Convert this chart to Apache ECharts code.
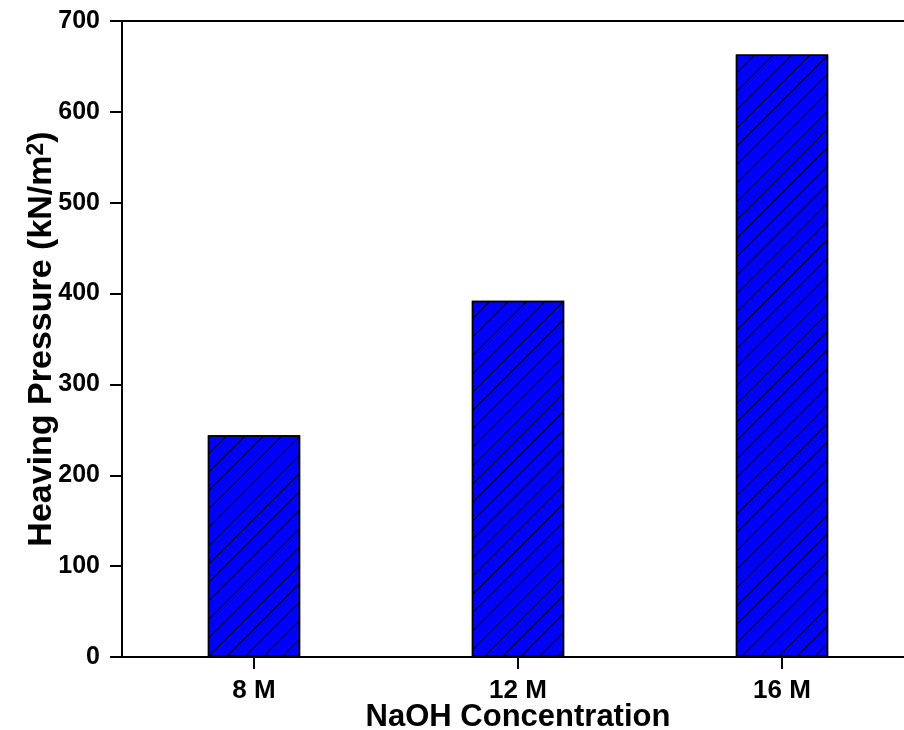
<!DOCTYPE html>
<html>
<head>
<meta charset="utf-8">
<title>Heaving Pressure vs NaOH Concentration</title>
<script src="https://cdn.jsdelivr.net/npm/echarts@6/dist/echarts.min.js"></script>
<style>
  html, body { margin: 0; padding: 0; background: #fff; }
  #chart { width: 904px; height: 730px; }
</style>
</head>
<body>
<div id="chart"></div>
<script>
// NaOH molarity groups and measured heaving pressure (kN/m²)
const categories = ['8 M', '12 M', '16 M'];
const heavingPressure = [244, 392, 663];
const yTicks = { min: 0, max: 700, interval: 100 };

const FONT = '"Liberation Sans", Arial, Helvetica, sans-serif';

const chart = echarts.init(document.getElementById('chart'), null, { renderer: 'canvas' });

chart.setOption({
  animation: false,
  backgroundColor: '#ffffff',
  grid: {
    left: 122,
    top: 21,
    right: -10,
    bottom: 73,
    containLabel: false,
    outerBoundsMode: 'none',
    show: true,
    borderColor: '#000',
    borderWidth: 2,
    backgroundColor: 'transparent'
  },
  xAxis: {
    type: 'category',
    data: categories,
    name: 'NaOH Concentration',
    nameLocation: 'middle',
    nameGap: 45,
    nameMoveOverlap: false,
    nameTextStyle: { fontFamily: FONT, fontWeight: 'bold', fontSize: 31, color: '#000' },
    axisLine: { lineStyle: { color: '#000', width: 2 } },
    axisTick: { show: true, alignWithLabel: true, length: 12, lineStyle: { color: '#000', width: 2 } },
    axisLabel: { fontFamily: FONT, fontWeight: 'bold', fontSize: 26, color: '#000', margin: 21 },
    splitLine: { show: false }
  },
  yAxis: {
    type: 'value',
    min: yTicks.min,
    max: yTicks.max,
    interval: yTicks.interval,
    name: 'Heaving Pressure (kN/m{sup|2})',
    nameLocation: 'middle',
    nameGap: 63,
    nameMoveOverlap: false,
    nameTextStyle: {
      fontFamily: FONT, fontWeight: 'bold', fontSize: 34, color: '#000',
      rich: {
        sup: { fontFamily: FONT, fontWeight: 'bold', fontSize: 23, color: '#000', verticalAlign: 'top', lineHeight: 30 }
      }
    },
    axisLine: { show: true, lineStyle: { color: '#000', width: 2 } },
    axisTick: { show: true, length: 12, lineStyle: { color: '#000', width: 2 } },
    axisLabel: { fontFamily: FONT, fontWeight: 'bold', fontSize: 25, color: '#000', margin: 22 },
    splitLine: { show: false }
  },
  series: [{
    type: 'bar',
    data: heavingPressure,
    barWidth: '35%',
    itemStyle: {
      color: '#0000ff',
      borderColor: '#000',
      borderWidth: 1.5,
      decal: {
        symbol: 'rect',
        symbolSize: 1,
        color: '#000',
        dashArrayX: [1, 0],
        dashArrayY: [1, 12],
        rotation: -Math.PI / 4
      }
    }
  }]
});
</script>
</body>
</html>
